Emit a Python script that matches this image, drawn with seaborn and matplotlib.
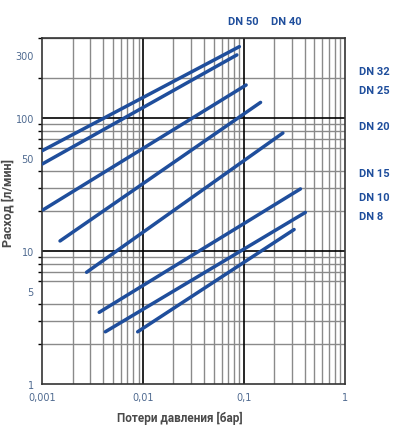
import matplotlib
matplotlib.use("Agg")
import matplotlib.pyplot as plt
import matplotlib.ticker as mticker
import numpy as np
import pandas as pd
import seaborn as sns

# pressure loss [bar] vs flow [l/min], one straight segment per valve size
sizes = ["DN 50", "DN 40", "DN 32", "DN 25", "DN 20", "DN 15", "DN 10", "DN 8"]
dp_start = [0.001, 0.001, 0.00102, 0.0015, 0.00275, 0.00367, 0.00422, 0.00883]
dp_end = [0.090, 0.085, 0.105, 0.146, 0.243, 0.363, 0.406, 0.314]
q_start = [56.8, 45.1, 20.4, 11.9, 6.92, 3.46, 2.47, 2.47]
q_end = [344, 298, 177, 131, 77.1, 29.3, 19.5, 14.5]

ytick_vals = [1, 5, 10, 50, 100, 300]
xtick_vals = [0.001, 0.01, 0.1, 1]
xtick_labels = ["0,001", "0,01", "0,1", "1"]

line_col = "#1f4e9c"
tick_col = "#4f6a90"
label_col = "#4a4a4a"

rows = []
for name, x0, x1, y0, y1 in zip(sizes, dp_start, dp_end, q_start, q_end):
    rows.append({"size": name, "dp": x0, "q": y0})
    rows.append({"size": name, "dp": x1, "q": y1})
df = pd.DataFrame(rows)

sns.set_style("white")
fig = plt.figure(figsize=(3.95, 4.31), dpi=100)
ax = fig.add_axes([0.107, 0.1067, 0.766, 0.803])

ax.set_xscale("log")
ax.set_yscale("log")
ax.set_xlim(0.001, 1)
ax.set_ylim(1, 400)

# grid: gray minors, black decades
ax.xaxis.set_minor_locator(mticker.LogLocator(base=10, subs=np.arange(2, 10)))
ax.yaxis.set_minor_locator(mticker.LogLocator(base=10, subs=np.arange(2, 10)))
ax.grid(which="minor", color="#8a8a8a", lw=1.0)
for v in [0.01, 0.1]:
    ax.axvline(v, color="black", lw=1.2, zorder=1.5)
for v in [10, 100]:
    ax.axhline(v, color="black", lw=1.2, zorder=1.5)
ax.set_axisbelow(True)

sns.lineplot(data=df, x="dp", y="q", hue="size", units="size", estimator=None,
             palette=[line_col] * len(sizes), lw=2.5, legend=False, ax=ax,
             zorder=3)

ax.set_xticks(xtick_vals)
ax.set_xticklabels(xtick_labels)
ax.set_yticks(ytick_vals)
ax.set_yticklabels([str(v) for v in ytick_vals])
ax.yaxis.set_minor_formatter(mticker.NullFormatter())
ax.xaxis.set_minor_formatter(mticker.NullFormatter())
ax.tick_params(axis="both", which="major", labelsize=7, labelcolor=tick_col,
               length=3, width=1, color="black", direction="out")
ax.tick_params(axis="y", which="minor", length=3, width=1, color="black",
               direction="out", left=True)
ax.tick_params(axis="x", which="minor", length=0)
ax.tick_params(axis="x", which="major", pad=3)
ax.tick_params(axis="y", which="major", pad=3)

for s in ax.spines.values():
    s.set_color("#333333")
    s.set_linewidth(1.2)

ax.set_xlabel("")
ax.set_ylabel("")
fig.text(180 / 395, 1 - 418 / 431, "Потери давления [бар]", ha="center",
         va="center", fontsize=8.5, fontweight="bold", color=label_col,
         family=["Roboto", "DejaVu Sans"])
fig.text(8 / 395, 1 - 203 / 431, "Расход [л/мин]", ha="center",
         va="center", rotation=90, fontsize=9, fontweight="bold",
         color=label_col, family=["Roboto", "DejaVu Sans"])

# size labels around the chart (figure pixel positions from top-left)
label_pos = {
    "DN 50": (243, 22), "DN 40": (286, 22),
    "DN 32": (374, 72), "DN 25": (374, 91), "DN 20": (374, 127),
    "DN 15": (374, 174), "DN 10": (374, 198), "DN 8": (371, 217),
}
for name, (px, py) in label_pos.items():
    fig.text(px / 395, 1 - py / 431, name, ha="center", va="center",
             fontsize=8, fontweight="bold", color=line_col,
             family=["Roboto", "DejaVu Sans"])

fig.savefig("out.png", dpi=100)
